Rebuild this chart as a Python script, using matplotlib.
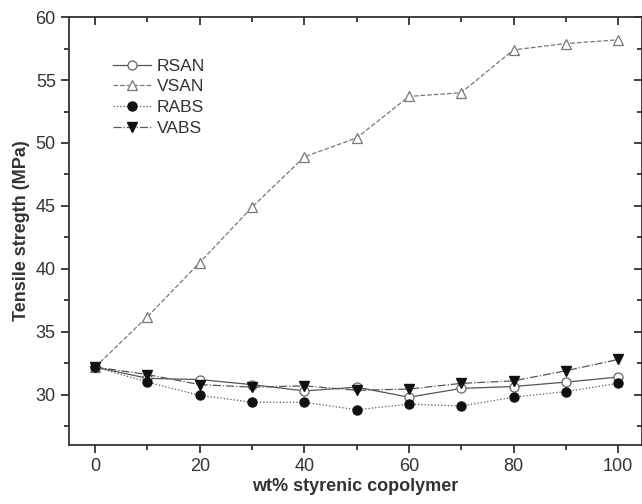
import numpy as np
import matplotlib.pyplot as plt
from matplotlib.ticker import MultipleLocator

plt.rcParams['font.family'] = ['Liberation Sans', 'DejaVu Sans']

wt = [0, 10, 20, 30, 40, 50, 60, 70, 80, 90, 100]
rsan = [32.2, 31.3, 31.2, 30.8, 30.3, 30.6, 29.8, 30.5, 30.65, 31.0, 31.4]
vsan = [32.2, 36.2, 40.5, 44.9, 48.9, 50.4, 53.7, 54.0, 57.4, 57.9, 58.2]
rabs = [32.2, 31.0, 29.95, 29.4, 29.4, 28.8, 29.25, 29.1, 29.8, 30.25, 30.9]
vabs = [32.2, 31.6, 30.8, 30.6, 30.7, 30.35, 30.45, 30.9, 31.1, 31.9, 32.8]

fig = plt.figure(figsize=(6.42, 5.04), dpi=100)
ax = fig.add_axes([0.1075, 0.117, 0.892, 0.849])

ax.plot(wt, rsan, '-', color='#555555', lw=0.9, marker='o', ms=6.5,
        mfc='white', mec='#666666', mew=0.9, label='RSAN')
ax.plot(wt, vsan, '--', color='#777777', lw=0.9, marker='^', ms=7.5,
        mfc='white', mec='#777777', mew=0.9, label='VSAN')
ax.plot(wt, rabs, ':', color='#555555', lw=0.9, marker='o', ms=6.5,
        mfc='#111111', mec='#111111', label='RABS')
ax.plot(wt, vabs, '-.', color='#555555', lw=0.9, marker='v', ms=7,
        mfc='#111111', mec='#111111', label='VABS')

ax.set_xlim(-5, 104.5)
ax.set_ylim(26, 60)

ax.xaxis.set_major_locator(MultipleLocator(20))
ax.xaxis.set_minor_locator(MultipleLocator(10))
ax.yaxis.set_major_locator(MultipleLocator(5))
ax.yaxis.set_minor_locator(MultipleLocator(2.5))
for s in ax.spines.values():
    s.set_linewidth(1.3)
    s.set_color('#333333')
ax.tick_params(which='both', direction='out', color='#333333', width=1.3,
               labelsize=13, labelcolor='#333333')
ax.tick_params(which='major', length=6)
ax.tick_params(which='minor', length=3.5)

# top and right ticks point inward
top = ax.secondary_xaxis('top')
top.xaxis.set_major_locator(MultipleLocator(20))
top.xaxis.set_minor_locator(MultipleLocator(10))
top.tick_params(which='both', direction='in', color='#333333', width=1.3, labeltop=False)
top.tick_params(which='major', length=6)
top.tick_params(which='minor', length=3.5)
top.spines['top'].set_visible(False)
right = ax.secondary_yaxis('right')
right.yaxis.set_major_locator(MultipleLocator(5))
right.yaxis.set_minor_locator(MultipleLocator(2.5))
right.tick_params(which='both', direction='in', color='#333333', width=1.3, labelright=False)
right.tick_params(which='major', length=6)
right.tick_params(which='minor', length=3.5)
right.spines['right'].set_visible(False)

ax.set_xlabel('wt% styrenic copolymer', fontsize=13, fontweight='bold', color='#333333', labelpad=2)
ax.set_ylabel('Tensile stregth (MPa)', fontsize=13, fontweight='bold', color='#333333', labelpad=4)

ax.legend(loc='upper left', bbox_to_anchor=(0.05, 0.94), frameon=False,
          fontsize=12.5, handlelength=2.2, handletextpad=0.3, labelspacing=0.32,
          labelcolor='#333333')

fig.savefig('out.png', dpi=100)
